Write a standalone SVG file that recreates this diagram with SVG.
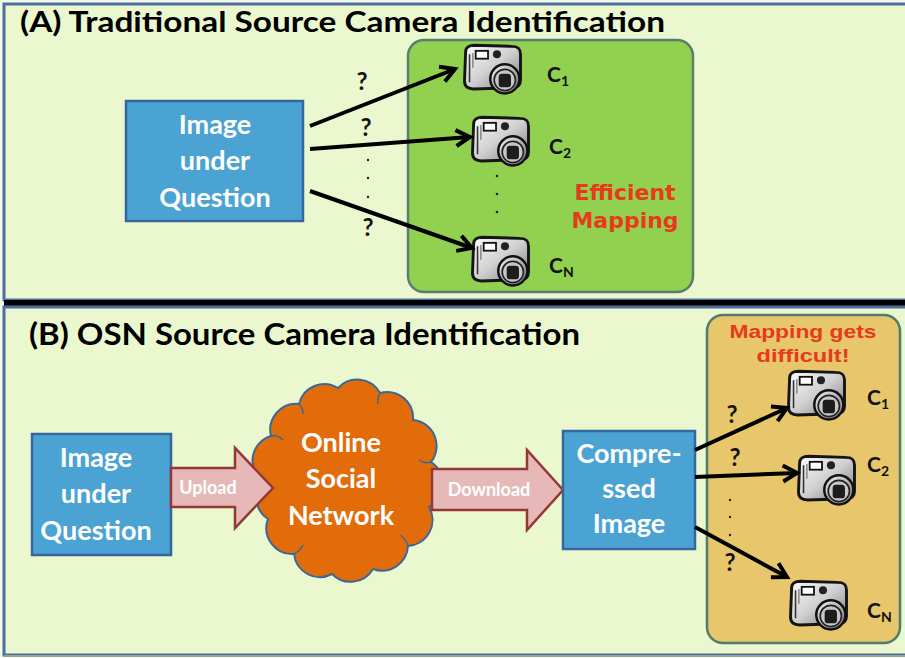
<svg xmlns="http://www.w3.org/2000/svg" width="905" height="658" viewBox="0 0 905 658">
  <style>
    .title { font-family: Lato, "Open Sans", "Liberation Sans", sans-serif; font-weight: 700; fill: #000; }
    .boxtxt { font-family: Lato, "Open Sans", "Liberation Sans", sans-serif; font-weight: 700; fill: #fff; font-size: 27px; text-anchor: middle; }
    .arrtxt { font-family: Lato, "Open Sans", "Liberation Sans", sans-serif; font-weight: 700; fill: #fff; font-size: 18px; text-anchor: middle; }
    .red { font-family: "DejaVu Sans", "Liberation Sans", sans-serif; font-weight: 700; fill: #E63A1C; text-anchor: middle; }
    .redn { font-family: "Liberation Sans", Arial, sans-serif; font-weight: 700; fill: #E63A1C; text-anchor: middle; }
    .lbl { font-family: Lato, "Open Sans", "Liberation Sans", sans-serif; font-weight: 700; fill: #111; font-size: 21px; }
    .q { font-family: Lato, "Open Sans", "Liberation Sans", sans-serif; font-weight: 700; fill: #111; font-size: 24px; text-anchor: middle; }
    .blue { fill: #4BA3D3; stroke: #3467A0; stroke-width: 2.5; }
    .blk { fill: #E6B9B8; stroke: #953735; stroke-width: 2.5; stroke-linejoin: miter; }
    .conn { stroke: #000; stroke-width: 4; fill: none; marker-end: url(#chev); }
    .dot { fill: #222; }
  </style>
  <defs>
    <marker id="chev" markerUnits="userSpaceOnUse" markerWidth="20" markerHeight="20" refX="16" refY="9" orient="auto" overflow="visible">
      <path d="M2,1 L16,9 L2,17" fill="none" stroke="#000" stroke-width="4"/>
    </marker>
    <linearGradient id="camBody" x1="0" y1="0" x2="1" y2="1">
      <stop offset="0" stop-color="#fbfbfb"/>
      <stop offset="0.5" stop-color="#d0d0d0"/>
      <stop offset="1" stop-color="#767676"/>
    </linearGradient>
    <linearGradient id="lensG" x1="0" y1="0" x2="1" y2="1">
      <stop offset="0" stop-color="#f2f2f2"/>
      <stop offset="1" stop-color="#7a7a7a"/>
    </linearGradient>
    <!-- compact camera icon -->
    <symbol id="cam" viewBox="0 0 58 50" overflow="visible">
      <path d="M5,8 C5,4 8,2 13,2 L46,3 C52,3 54,5 54,10 L54,33 C54,38 51,40 46,40 L12,41 C7,41 4,39 4,34 Z" fill="url(#camBody)" stroke="#151515" stroke-width="2.6"/>
      <path d="M8.5,10 L8.5,35" stroke="#333" stroke-width="1.4"/>
      <path d="M11.5,9 L11.5,22" stroke="#666" stroke-width="1"/>
      <rect x="14" y="7" width="11" height="7" fill="#fff" stroke="#111" stroke-width="1.6"/>
      <circle cx="33" cy="10" r="3.6" fill="#222"/>
      <circle cx="40" cy="32" r="13" fill="url(#lensG)" stroke="#111" stroke-width="2.2"/>
      <circle cx="40" cy="33" r="9.5" fill="#c8c8c8" stroke="#222" stroke-width="1.5"/>
      <rect x="34.5" y="27.5" width="11" height="12" rx="3" fill="#1d1d1d"/>
    </symbol>
  </defs>

  <!-- page background -->
  <rect x="0" y="0" width="905" height="658" fill="#F4FBEA"/>

  <!-- panel A -->
  <g id="panelA">
    <rect x="4" y="4" width="910" height="296" fill="#EBF7CE" stroke="#4D6E9E" stroke-width="3"/>
    <text class="title" x="20" y="32" font-size="28" textLength="645" lengthAdjust="spacingAndGlyphs">(A) Traditional Source Camera Identification</text>
  </g>

  <!-- separator bar -->
  <rect x="4" y="300" width="905" height="7" fill="#000"/>

  <!-- panel B -->
  <g id="panelB">
    <rect x="4" y="307" width="910" height="348" fill="#EBF7CE" stroke="#4D6E9E" stroke-width="3"/>
    <line x1="4" y1="656" x2="905" y2="656" stroke="#9aa39a" stroke-width="2"/>
    <text class="title" x="29" y="345" font-size="31" textLength="551" lengthAdjust="spacingAndGlyphs">(B) OSN Source Camera Identification</text>
  </g>

  <!-- A: camera group -->
  <g id="camerasA">
    <rect x="408" y="40" width="285" height="252" rx="16" fill="#92D050" stroke="#587E70" stroke-width="2.5"/>
    <use href="#cam" x="460" y="43" width="65" height="56"/>
    <use href="#cam" x="468" y="115" width="65" height="56"/>
    <use href="#cam" x="468" y="235" width="65" height="56"/>
    <text class="lbl" x="547" y="82">C<tspan font-size="14" dy="4">1</tspan></text>
    <text class="lbl" x="549" y="154">C<tspan font-size="14" dy="4">2</tspan></text>
    <text class="lbl" x="549" y="273">C<tspan font-size="14" dy="4">N</tspan></text>
    <circle class="dot" cx="497" cy="176" r="1.3"/>
    <circle class="dot" cx="497" cy="194" r="1.3"/>
    <circle class="dot" cx="497" cy="212" r="1.3"/>
    <text class="red" x="625" y="200" font-size="22">Efficient</text>
    <text class="red" x="625" y="228" font-size="22">Mapping</text>
  </g>

  <!-- A: query image -->
  <g id="imageA">
    <rect class="blue" x="126" y="101" width="177" height="120"/>
    <text class="boxtxt" x="215" y="134">Image</text>
    <text class="boxtxt" x="215" y="170">under</text>
    <text class="boxtxt" x="215" y="207">Question</text>
  </g>

  <!-- B: query image -->
  <g id="imageB">
    <rect class="blue" x="32" y="434" width="139" height="121"/>
    <text class="boxtxt" x="96" y="467">Image</text>
    <text class="boxtxt" x="96" y="503">under</text>
    <text class="boxtxt" x="96" y="540">Question</text>
  </g>

  <!-- B: social network cloud -->
  <g id="cloud">
    <path d="M262,481 A26,26 0 0 1 271,436 A26,26 0 0 1 299,404 A26,26 0 0 1 338,388 A26,26 0 0 1 380,393 A26,26 0 0 1 413,420 A26,26 0 0 1 431,462 A26,26 0 0 1 429,507 A26,26 0 0 1 408,546 A26,26 0 0 1 373,569 A26,26 0 0 1 332,574 A26,26 0 0 1 294,554 A26,26 0 0 1 268,519 A26,26 0 0 1 262,481 Z" fill="#E36C0A" stroke="#3A6896" stroke-width="2"/>
    <path d="M271,436 q7,-1 12,4 M299,404 q4,4 4,10 M380,393 q-3,5 -2,11 M431,462 q-7,2 -12,-2 M408,546 q-2,-7 -8,-11 M294,554 q6,-3 9,-9 M262,481 q6,1 9,6" fill="none" stroke="#3A6896" stroke-width="1.5"/>
    <text class="boxtxt" x="341" y="452">Online</text>
    <text class="boxtxt" x="341" y="488">Social</text>
    <text class="boxtxt" x="341" y="525">Network</text>
  </g>

  <!-- B: block arrows -->
  <g id="upload">
    <path class="blk" d="M171,468 L235,468 L235,448 L273,488 L235,528 L235,507 L171,507 Z"/>
    <text class="arrtxt" x="208" y="494">Upload</text>
  </g>
  <g id="download">
    <path class="blk" d="M432,469 L527,469 L527,450 L563,490 L527,530 L527,510 L432,510 Z"/>
    <text class="arrtxt" x="489" y="496">Download</text>
  </g>

  <!-- B: compressed image -->
  <g id="compressed">
    <rect class="blue" x="563" y="431" width="132" height="118"/>
    <text class="boxtxt" x="629" y="463">Compre-</text>
    <text class="boxtxt" x="629" y="498">ssed</text>
    <text class="boxtxt" x="629" y="533">Image</text>
  </g>

  <!-- B: camera group -->
  <g id="camerasB">
    <rect x="707" y="315" width="193" height="328" rx="16" fill="#E8C66C" stroke="#4F7D6F" stroke-width="2.5"/>
    <text class="redn" x="803" y="338" font-size="19" textLength="147" lengthAdjust="spacingAndGlyphs">Mapping gets</text>
    <text class="redn" x="803" y="362" font-size="19" textLength="93" lengthAdjust="spacingAndGlyphs">difficult!</text>
    <use href="#cam" x="784" y="369" width="65" height="56"/>
    <use href="#cam" x="794" y="454" width="65" height="56"/>
    <use href="#cam" x="786" y="579" width="65" height="56"/>
    <text class="lbl" x="867" y="405">C<tspan font-size="14" dy="4">1</tspan></text>
    <text class="lbl" x="867" y="472">C<tspan font-size="14" dy="4">2</tspan></text>
    <text class="lbl" x="867" y="618">C<tspan font-size="14" dy="4">N</tspan></text>
  </g>

  <!-- connectors -->
  <g id="connectors">
    <line class="conn" x1="310" y1="126" x2="455" y2="69"/>
    <line class="conn" x1="310" y1="149" x2="470" y2="137"/>
    <line class="conn" x1="310" y1="191" x2="472" y2="248"/>
    <line class="conn" x1="695" y1="450" x2="787" y2="408"/>
    <line class="conn" x1="695" y1="477" x2="797" y2="473"/>
    <line class="conn" x1="695" y1="527" x2="787" y2="577"/>
    <text class="q" x="362" y="90">?</text>
    <text class="q" x="366" y="136">?</text>
    <text class="q" x="368" y="236">?</text>
    <circle class="dot" cx="368" cy="160" r="1.2"/>
    <circle class="dot" cx="368" cy="178" r="1.2"/>
    <circle class="dot" cx="368" cy="197" r="1.2"/>
    <text class="q" x="732" y="423">?</text>
    <text class="q" x="735" y="466">?</text>
    <text class="q" x="730" y="571">?</text>
    <circle class="dot" cx="730" cy="500" r="1.2"/>
    <circle class="dot" cx="730" cy="517" r="1.2"/>
    <circle class="dot" cx="730" cy="535" r="1.2"/>
  </g>
</svg>
